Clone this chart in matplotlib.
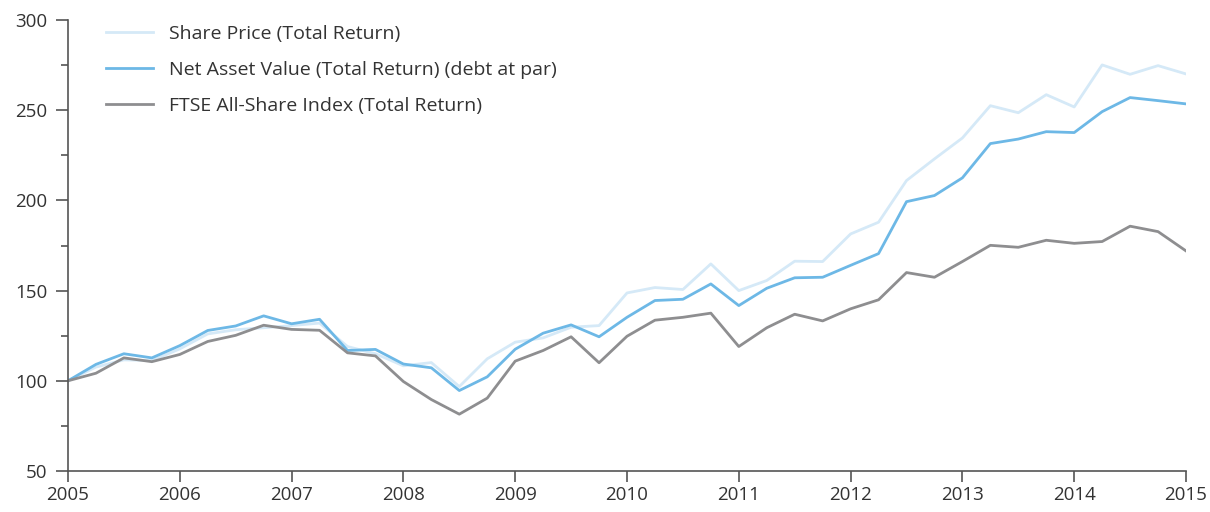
import numpy as np
import matplotlib.pyplot as plt
from matplotlib.ticker import MultipleLocator

# ---------------- DATA (quarterly, rebased to 100) ---------------- #

start_year = 2005
share_price = [100, 107.6, 111.6, 111.2, 117.7, 126.0, 128.3, 129.4, 130.6, 132.0,
               119.0, 115.0, 108.3, 110.1, 96.8, 112.2, 121.4, 123.8, 129.7, 130.6,
               148.7, 151.7, 150.6, 164.8, 150.0, 155.6, 166.3, 166.1, 181.4, 187.9,
               211.0, 223.0, 234.6, 252.5, 248.6, 258.6, 251.8, 275.1, 269.9, 274.7,
               270.1]
nav = [100, 109.1, 115.0, 112.7, 119.5, 127.9, 130.4, 136.0, 131.6, 134.1,
       116.8, 117.4, 109.3, 107.2, 94.6, 102.2, 117.5, 126.4, 131.0, 124.4,
       135.2, 144.5, 145.2, 153.7, 141.7, 151.3, 157.1, 157.4, 164.0, 170.5,
       199.3, 202.7, 212.5, 231.5, 234.0, 238.1, 237.6, 249.2, 257.0, 255.3,
       253.5]
ftse = [100, 104.2, 112.7, 110.6, 114.6, 121.8, 125.2, 130.8, 128.5, 128.0,
        115.5, 113.8, 99.6, 89.6, 81.5, 90.4, 110.9, 116.8, 124.4, 110.0,
        124.7, 133.6, 135.2, 137.5, 119.0, 129.4, 136.9, 133.2, 139.9, 144.9,
        160.0, 157.4, 166.1, 175.1, 174.0, 177.9, 176.2, 177.2, 185.7, 182.7,
        172.0]
years = list(range(2005, 2016))

x = start_year + np.arange(len(nav)) / 4

# ---------------- PLOT ---------------- #

plt.rcParams['font.family'] = ['Open Sans', 'DejaVu Sans']

fig = plt.figure(figsize=(12.1, 5.12), dpi=100)
ax = fig.add_axes([68 / 1210, 41 / 512, 1118 / 1210, 451 / 512])

ax.plot(x, share_price, color='#d5e9f7', lw=2.0, label='Share Price (Total Return)')
ax.plot(x, nav, color='#6db8e6', lw=2.0, label='Net Asset Value (Total Return) (debt at par)')
ax.plot(x, ftse, color='#8e8e90', lw=2.0, label='FTSE All-Share Index (Total Return)')

ax.set_xlim(2005, 2015)
ax.set_ylim(50, 300)
ax.set_xticks(years)
ax.set_xticklabels([str(y) for y in years])
ax.yaxis.set_major_locator(MultipleLocator(50))
ax.yaxis.set_minor_locator(MultipleLocator(25))

for side in ['top', 'right']:
    ax.spines[side].set_visible(False)
for side in ['left', 'bottom']:
    ax.spines[side].set_color('#555555')
    ax.spines[side].set_linewidth(1.2)

ax.tick_params(axis='y', which='major', direction='out', length=9, width=1.2,
               color='#555555', labelsize=13.5, labelcolor='#333333', pad=6)
ax.tick_params(axis='y', which='minor', direction='out', length=5, width=1.2,
               color='#555555')
ax.tick_params(axis='x', which='major', direction='out', length=8, width=1.2,
               color='#555555', labelsize=13.5, labelcolor='#333333', pad=3)

leg = ax.legend(loc='upper left', bbox_to_anchor=(106 / 1210, 1 - 25 / 512),
                bbox_transform=fig.transFigure, frameon=False, fontsize=14,
                handlelength=2.4, handletextpad=0.82, labelspacing=0.92,
                borderpad=0, borderaxespad=0)
for t in leg.get_texts():
    t.set_color('#333333')

plt.savefig('out.png', dpi=100)
